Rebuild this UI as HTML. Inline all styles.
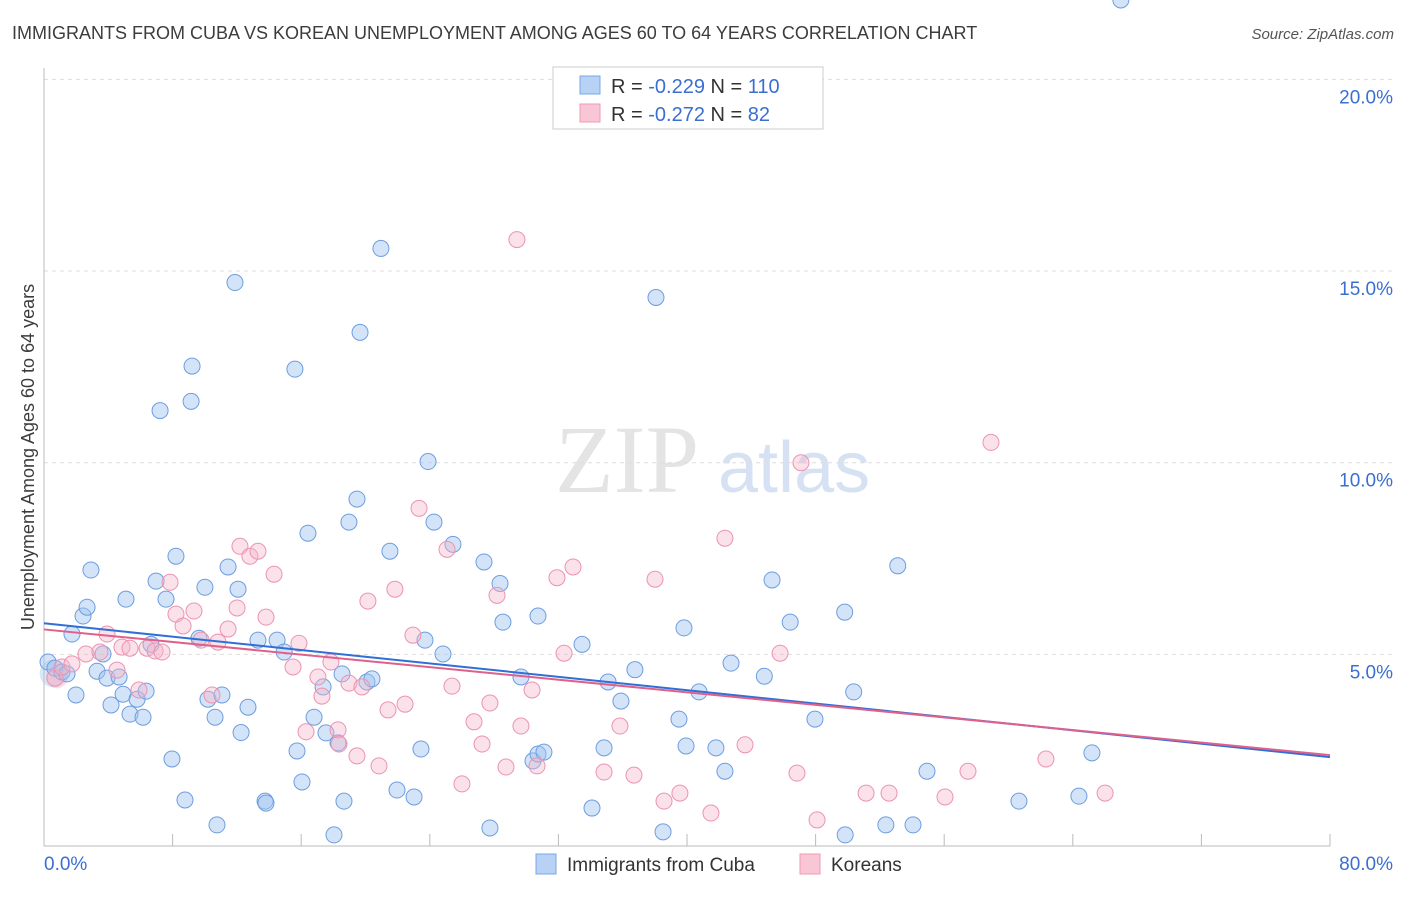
<!DOCTYPE html>
<html><head><meta charset="utf-8"><style>
body{margin:0;background:#fff;font-family:"Liberation Sans",sans-serif}
</style></head><body>
<svg width="1406" height="892" xmlns="http://www.w3.org/2000/svg" id="chart" font-family="Liberation Sans, sans-serif">
<text x="12" y="39" font-size="18" fill="#3c3c3c">IMMIGRANTS FROM CUBA VS KOREAN UNEMPLOYMENT AMONG AGES 60 TO 64 YEARS CORRELATION CHART</text>
<text x="1394" y="39" font-size="15" fill="#555" text-anchor="end" font-style="italic">Source: ZipAtlas.com</text>
<text x="555" y="492" font-size="96" fill="#e4e4e4" font-family="Liberation Serif, serif">ZIP</text>
<text x="718" y="492" font-size="72" fill="#d6e2f3">atlas</text>
<text transform="translate(34,457) rotate(-90)" font-size="18" fill="#3c3c3c" text-anchor="middle">Unemployment Among Ages 60 to 64 years</text>
<g id="grid"></g><g id="pts"></g><g id="lines"></g>
<g>
<rect x="553" y="67" width="270" height="62" fill="#fff" stroke="#ccc"/>
<rect x="580" y="76" width="20" height="18" fill="#b8d2f5" stroke="#7aa7e6"/>
<rect x="580" y="104" width="20" height="18" fill="#f9c6d6" stroke="#ee9ab6"/>
<text x="611" y="93" font-size="20" fill="#333">R = <tspan fill="#3a6fd1">-0.229</tspan>   N = <tspan fill="#3a6fd1">110</tspan></text>
<text x="611" y="121" font-size="20" fill="#333">R = <tspan fill="#3a6fd1">-0.272</tspan>   N =  <tspan fill="#3a6fd1"> 82</tspan></text>
</g>
<g>
<rect x="536" y="854" width="20" height="20" fill="#b8d2f5" stroke="#7aa7e6"/>
<text x="567" y="871" font-size="19" fill="#333">Immigrants from Cuba</text>
<rect x="800" y="854" width="20" height="20" fill="#f9c6d6" stroke="#ee9ab6"/>
<text x="831" y="871" font-size="19" fill="#333">Koreans</text>
</g>
</svg>
<script>
const xTickLabels=["0.0%","80.0%"];
const yTicks=[5,10,15,20];
const yTickLabels=["5.0%","10.0%","15.0%","20.0%"];
const cubaX=[0.25,0.68,1.12,1.43,1.99,2.43,2.68,1.74,2.92,3.30,3.67,3.92,4.17,4.67,4.92,5.10,5.35,5.79,6.16,6.35,6.66,6.97,7.22,7.59,7.96,8.21,8.77,9.21,9.15,9.64,10.01,10.20,10.64,10.76,11.07,11.45,11.88,12.07,12.26,12.69,13.31,13.75,13.81,14.50,14.94,15.61,15.74,16.05,16.42,16.80,17.36,17.54,18.04,18.29,18.66,18.54,18.97,19.47,19.66,20.09,20.40,20.96,21.52,21.96,23.02,23.45,23.70,23.89,24.26,24.82,25.44,27.37,27.74,28.37,28.55,29.67,30.42,30.73,31.10,30.73,33.47,34.09,34.84,35.09,35.89,36.76,38.07,38.51,39.50,39.81,39.94,40.75,41.80,42.36,42.74,44.81,45.29,46.42,47.96,49.81,49.84,50.37,52.37,53.11,54.06,54.93,60.65,64.38,65.19,66.99];
const cubaY=[4.80,4.64,4.54,4.49,3.94,6.00,6.23,5.53,7.20,4.56,5.01,4.38,3.68,4.41,3.96,6.44,3.44,3.83,3.36,4.04,5.26,6.91,11.36,6.44,2.27,7.56,1.20,12.52,11.60,5.42,6.75,3.83,3.36,0.55,3.94,7.28,14.70,6.70,2.96,3.62,5.37,1.17,1.12,5.37,5.06,12.44,2.48,1.67,8.16,3.36,4.15,2.95,0.29,2.69,1.17,4.49,8.45,9.05,13.40,4.28,4.36,15.59,7.69,1.46,1.28,2.53,5.37,10.03,8.45,5.01,7.87,7.41,0.47,6.85,5.84,4.41,2.22,2.40,2.45,6.00,5.26,0.99,2.56,4.28,3.78,4.60,14.31,0.37,3.31,5.69,2.61,4.02,2.56,1.95,4.77,4.43,6.94,5.84,3.31,6.10,0.29,4.02,0.55,7.31,0.55,1.95,1.17,1.30,2.43];
const korX=[0.68,1.12,1.74,2.61,3.48,3.92,4.54,4.85,5.35,5.91,6.41,6.91,7.34,7.84,8.21,8.65,9.33,9.77,10.45,10.82,11.45,12.01,12.19,12.81,13.31,13.81,14.31,15.49,15.86,16.30,17.04,17.29,17.85,18.29,18.35,18.97,19.47,19.78,20.15,20.84,21.40,21.83,22.46,22.95,23.33,25.07,25.38,26.00,26.75,27.25,27.74,28.18,28.74,29.42,29.67,30.36,30.67,31.91,32.35,32.91,34.84,35.83,36.70,38.01,38.57,39.56,41.49,42.36,43.61,45.79,46.84,47.09,48.09,51.14,52.57,56.05,57.48,58.91,62.33,66.01];
const korY=[4.38,4.67,4.75,5.01,5.06,5.53,4.59,5.19,5.16,4.07,5.16,5.09,5.06,6.88,6.05,5.74,6.13,5.37,3.94,5.32,5.66,6.21,7.82,7.56,7.69,5.97,7.09,4.67,5.29,2.98,4.41,3.91,4.80,3.03,2.66,4.25,2.35,4.15,6.39,2.09,3.55,6.70,3.70,5.50,8.81,7.74,4.17,1.62,3.24,2.66,3.73,6.54,2.06,15.82,3.13,4.07,2.09,7.00,5.03,7.28,1.93,3.13,1.85,6.96,1.17,1.38,0.86,8.03,2.64,5.03,1.90,10.00,0.68,1.38,1.38,1.28,1.95,10.53,2.27,1.38];
const cubaLine=[5.81,2.32];
const korLine=[5.65,2.37];
const X0=44,X1=1330,Y0=846,PXY=38.33;
const sx=v=>X0+(X1-X0)*v/80, sy=v=>Y0-v*PXY;
const NS="http://www.w3.org/2000/svg";
function mk(tag,attrs,parent){const e=document.createElementNS(NS,tag);for(const k in attrs)e.setAttribute(k,attrs[k]);parent.appendChild(e);return e;}
const grid=document.getElementById('grid');
yTicks.forEach((t,i)=>{
 const l=mk('line',{x1:X0,x2:1394,y1:sy(t),y2:sy(t),stroke:'#ddd','stroke-dasharray':'4,4'},grid);
 
 
 const tx=mk('text',{x:1393,y:sy(t)+24,'font-size':19,fill:'#3a6fd1','text-anchor':'end'},grid);
 tx.textContent=yTickLabels[i];
 
 
});
const ax=mk('line',{x1:X0,x2:X0,y1:68,y2:Y0,stroke:'#bbb'},grid);


const bx=mk('line',{x1:X0,x2:X1,y1:Y0,y2:Y0,stroke:'#bbb'},grid);


for(let v=0;v<=80;v+=8){
 const t=mk('line',{x1:sx(v),x2:sx(v),y1:Y0,y2:Y0-12,stroke:'#bbb'},grid);
 
 
}
[[0,'start',44],[80,'end',1393]].forEach((a,i)=>{
 const t=mk('text',{x:a[2],y:870,'font-size':19,fill:'#3a6fd1','text-anchor':a[1]},grid);
 t.textContent=xTickLabels[i];
 
 
});
const pts=document.getElementById('pts');
mk('circle',{cx:sx(0.6),cy:sy(4.5),r:14,fill:'rgba(170,200,240,0.45)',stroke:'none'},pts);
mk('circle',{cx:sx(0.8),cy:sy(4.4),r:11,fill:'rgba(245,180,200,0.45)',stroke:'none'},pts);
cubaX.forEach((x,i)=>{
 const c=mk('circle',{cx:sx(x),cy:sy(cubaY[i]),r:8,fill:'rgba(160,195,240,0.45)',stroke:'#6d9de0','stroke-width':1},pts);
 
 
});
korX.forEach((x,i)=>{
 const c=mk('circle',{cx:sx(x),cy:sy(korY[i]),r:8,fill:'rgba(245,180,200,0.4)',stroke:'#ec93b1','stroke-width':1},pts);
 
 
});
const lines=document.getElementById('lines');
const l1=mk('line',{x1:sx(0),y1:sy(cubaLine[0]),x2:sx(80),y2:sy(cubaLine[1]),stroke:'#2f6fd6','stroke-width':2},lines);


const l2=mk('line',{x1:sx(0),y1:sy(korLine[0]),x2:sx(80),y2:sy(korLine[1]),stroke:'#e0608c','stroke-width':2},lines);


</script>
</body></html>
